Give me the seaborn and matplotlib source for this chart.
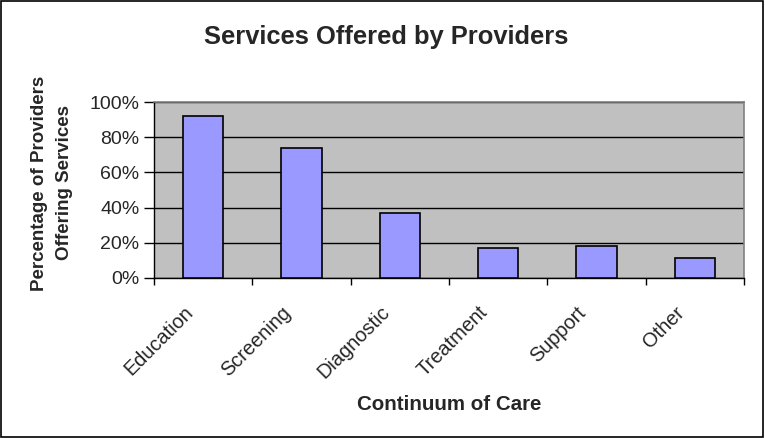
import matplotlib
matplotlib.use("Agg")
import matplotlib.pyplot as plt
import matplotlib.patches as mpatches
import matplotlib.transforms as mtransforms
from matplotlib.ticker import FixedLocator, PercentFormatter
import seaborn as sns
import pandas as pd

categories = ["Education", "Screening", "Diagnostic", "Treatment", "Support", "Other"]
percent_offering = [92, 74, 37, 17, 18, 11.5]
y_ticks = [0, 20, 40, 60, 80, 100]

sns.set_theme(style="white")
plt.rcParams["font.family"] = ["Liberation Sans", "DejaVu Sans"]

df = pd.DataFrame({"Service": categories, "Percent": percent_offering})

fig = plt.figure(figsize=(7.65, 4.38), dpi=100)
ax = fig.add_axes([0.2013, 0.366, 0.7712, 0.4004])

sns.barplot(data=df, x="Service", y="Percent", ax=ax, color="#9999FF",
            saturation=1, width=0.41, edgecolor="black", linewidth=1.2, zorder=3)

ax.set_facecolor("#C0C0C0")
ax.set_xlim(-0.5, len(categories) - 0.5)
ax.set_ylim(0, 100)

# gridlines every 20%
ax.yaxis.set_major_locator(FixedLocator(y_ticks))
ax.yaxis.set_major_formatter(PercentFormatter(decimals=0))
ax.grid(axis="y", color="black", linewidth=1.0, zorder=1)
ax.grid(axis="x", visible=False)

# x ticks on category boundaries, labels at category centres
ax.set_xticks([i - 0.5 for i in range(len(categories) + 1)])
ax.set_xticklabels([])
ax.set_xticks(range(len(categories)), minor=True)
ax.set_xticklabels(categories, minor=True, rotation=45, ha="right",
                   rotation_mode="anchor", fontsize=14.4)
ax.tick_params(axis="x", which="minor", length=0, pad=18)
ax.tick_params(axis="x", which="major", length=5, width=1, color="black",
               direction="out", bottom=True)
ax.tick_params(axis="y", length=7, width=1, color="black", direction="out",
               left=True, labelsize=14, pad=3.5)

shift = mtransforms.ScaledTranslation(-0.20, 0, fig.dpi_scale_trans)
for lbl in ax.get_xticklabels(minor=True):
    lbl.set_transform(lbl.get_transform() + shift)

for side in ["top", "right"]:
    ax.spines[side].set_color("#808080")
    ax.spines[side].set_linewidth(1.2)
for side in ["left", "bottom"]:
    ax.spines[side].set_color("black")
    ax.spines[side].set_linewidth(1.0)

ax.set_xlabel("Continuum of Care", fontsize=14.8, fontweight="bold")
ax.xaxis.label.set_va("center")
ax.xaxis.set_label_coords(0.5, -0.724)

ax.set_ylabel("Percentage of Providers\nOffering Services", fontsize=13.5,
              fontweight="bold", linespacing=1.6)
ax.yaxis.label.set_va("center")
ax.yaxis.set_label_coords(-0.173, 0.54)

fig.text(0.5045, 0.9155, "Services Offered by Providers", ha="center", va="center",
         fontsize=18.4, fontweight="bold")

# outer frame around the whole chart
fig.patches.append(mpatches.Rectangle((0.001, 0.002), 0.997, 0.995,
                                      transform=fig.transFigure, fill=False,
                                      edgecolor="black", linewidth=1.2))

fig.savefig("out.png", dpi=100)
